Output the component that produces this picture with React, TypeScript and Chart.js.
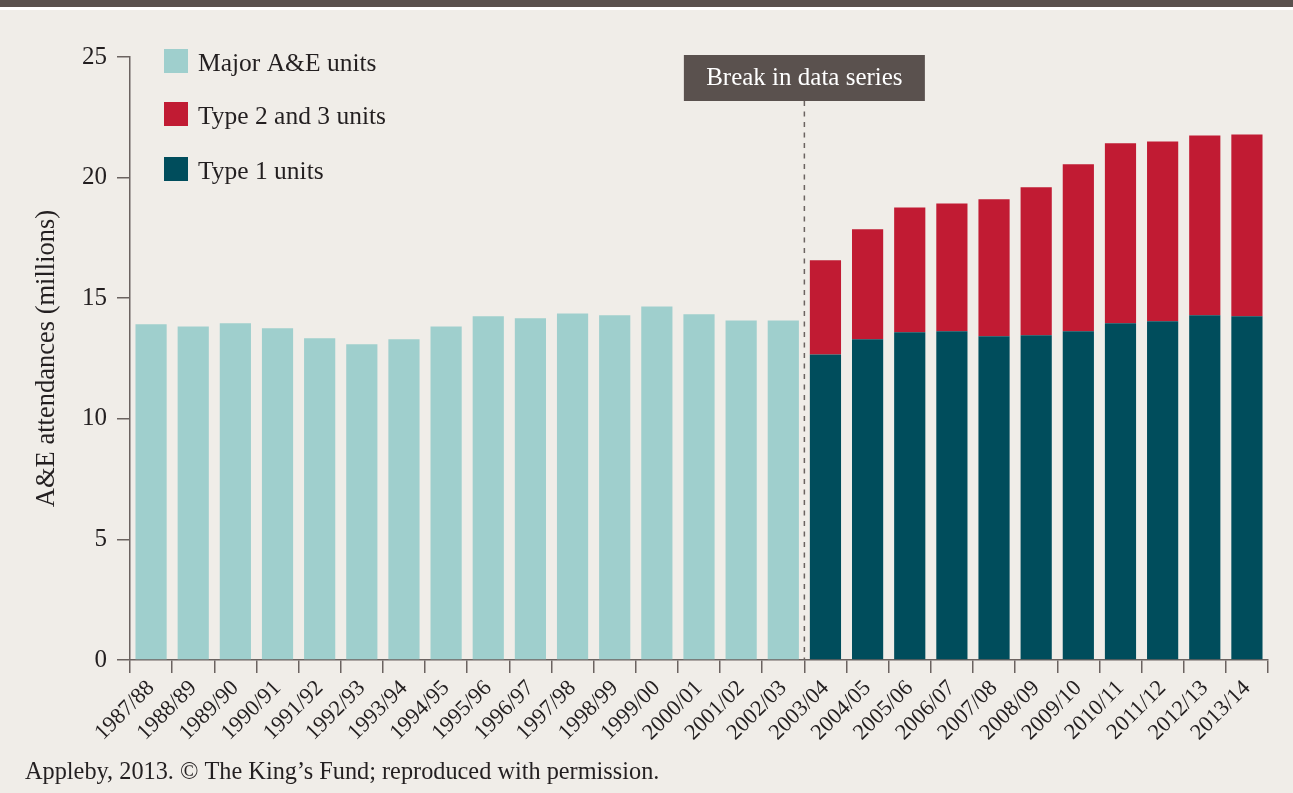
import React, { useEffect, useRef } from "react";
import { Chart, registerables } from "chart.js";
Chart.register(...registerables);

const categories = [
  "1987/88", "1988/89", "1989/90", "1990/91", "1991/92", "1992/93", "1993/94",
  "1994/95", "1995/96", "1996/97", "1997/98", "1998/99", "1999/00", "2000/01",
  "2001/02", "2002/03", "2003/04", "2004/05", "2005/06", "2006/07", "2007/08",
  "2008/09", "2009/10", "2010/11", "2011/12", "2012/13", "2013/14",
];

const majorAE: (number | null)[] = [
  13.92, 13.83, 13.96, 13.75, 13.34, 13.09, 13.3, 13.83, 14.25, 14.17, 14.37,
  14.29, 14.66, 14.33, 14.08, 14.08,
  null, null, null, null, null, null, null, null, null, null, null,
];

const type1: (number | null)[] = [
  null, null, null, null, null, null, null, null, null, null, null, null, null,
  null, null, null,
  12.67, 13.3, 13.59, 13.63, 13.42, 13.46, 13.63, 13.96, 14.04, 14.29, 14.25,
];

const type23: (number | null)[] = [
  null, null, null, null, null, null, null, null, null, null, null, null, null,
  null, null, null,
  3.9, 4.56, 5.17, 5.3, 5.68, 6.14, 6.92, 7.46, 7.46, 7.46, 7.54,
];

const yTicks = [0, 5, 10, 15, 20, 25];
const breakBefore = "2003/04";
const breakLabel = "Break in data series";
const yTitle = "A&E attendances (millions)";
const sourceText = "Appleby, 2013. © The King’s Fund; reproduced with permission.";

const C_MAJOR = "#9fcfcd";
const C_T23 = "#c11b33";
const C_T1 = "#004d5c";
const C_BG = "#f0ede8";
const C_DARK = "#5a514e";
const C_AXIS = "#6b6360";
const C_TEXT = "#231f20";
const FONT = "'Liberation Serif', 'Times New Roman', serif";
const FS = 25;

const legendItems = [
  { label: "Major A&E units", color: C_MAJOR },
  { label: "Type 2 and 3 units", color: C_T23 },
  { label: "Type 1 units", color: C_T1 },
];

const overlayPlugin = {
  id: "overlay",
  afterDraw(chart: any) {
    const ctx = chart.ctx;
    const xs = chart.scales.x;
    const area = chart.chartArea;
    const idx = categories.indexOf(breakBefore);
    const bx = (xs.getPixelForValue(idx - 1) + xs.getPixelForValue(idx)) / 2;

    ctx.save();
    // dashed break line
    ctx.strokeStyle = C_AXIS;
    ctx.lineWidth = 1.5;
    ctx.setLineDash([5, 5.5]);
    ctx.beginPath();
    ctx.moveTo(bx, 101);
    ctx.lineTo(bx, area.bottom);
    ctx.stroke();
    ctx.setLineDash([]);

    // break label box
    const bw = 241;
    ctx.fillStyle = C_DARK;
    ctx.fillRect(bx - bw / 2, 55, bw, 46);
    ctx.fillStyle = "#ffffff";
    ctx.font = `${FS}px ${FONT}`;
    ctx.textAlign = "center";
    ctx.textBaseline = "alphabetic";
    ctx.fillText(breakLabel, bx, 85);

    // legend
    const tops = [49, 102, 157];
    ctx.font = `25.5px ${FONT}`;
    legendItems.forEach((it, i) => {
      ctx.fillStyle = it.color;
      ctx.fillRect(164, tops[i], 24, 24);
      ctx.fillStyle = C_TEXT;
      ctx.textAlign = "left";
      ctx.fillText(it.label, 198, tops[i] + 22);
    });

    // source
    ctx.font = `24.3px ${FONT}`;
    ctx.fillStyle = C_TEXT;
    ctx.textAlign = "left";
    ctx.fillText(sourceText, 25, 779);
    ctx.restore();
  },
};

export default function App() {
  const ref = useRef<HTMLCanvasElement | null>(null);

  useEffect(() => {
    if (!ref.current) return;
    const font = { family: FONT, size: FS };
    const chart = new Chart(ref.current, {
      type: "bar",
      data: {
        labels: categories,
        datasets: [
          { label: "Major A&E units", data: majorAE, backgroundColor: C_MAJOR },
          { label: "Type 1 units", data: type1, backgroundColor: C_T1 },
          { label: "Type 2 and 3 units", data: type23, backgroundColor: C_T23 },
        ],
      },
      options: {
        animation: false,
        responsive: false,
        maintainAspectRatio: false,
        datasets: { bar: { categoryPercentage: 1, barPercentage: 0.74 } },
        layout: { padding: { top: 57, right: 25, left: 0, bottom: 0 } },
        plugins: { legend: { display: false }, tooltip: { enabled: false } },
        scales: {
          x: {
            stacked: true,
            grid: {
              offset: true,
              drawOnChartArea: false,
              tickLength: 13,
              color: C_AXIS,
              lineWidth: 1.5,
            },
            border: { color: C_AXIS, width: 1.5 },
            ticks: {
              autoSkip: false,
              minRotation: 45,
              maxRotation: 45,
              font: { family: FONT, size: 22.5 },
              color: C_TEXT,
              padding: 2,
            },
            afterFit: (s: any) => {
              s.height = 133;
            },
          },
          y: {
            stacked: true,
            min: yTicks[0],
            max: yTicks[yTicks.length - 1],
            afterBuildTicks: (s: any) => {
              s.ticks = yTicks.map((v) => ({ value: v }));
            },
            ticks: { font, color: C_TEXT, padding: 10 },
            grid: {
              drawOnChartArea: false,
              tickLength: 13,
              color: C_AXIS,
              lineWidth: 1.5,
            },
            border: { color: C_AXIS, width: 1.5 },
            title: {
              display: true,
              text: yTitle,
              font: { family: FONT, size: 26.5 },
              color: C_TEXT,
              padding: { top: 31, bottom: 0 },
            },
            afterFit: (s: any) => {
              s.width = 130;
            },
          },
        },
      } as any,
      plugins: [overlayPlugin],
    });
    return () => chart.destroy();
  }, []);

  return (
    <div
      style={{
        position: "fixed",
        left: 0,
        top: 0,
        width: 1293,
        height: 793,
        background: C_BG,
        overflow: "hidden",
      }}
    >
      <div style={{ position: "absolute", left: 0, top: 0, width: 1293, height: 7, background: C_DARK }} />
      <div style={{ position: "absolute", left: 0, top: 7, width: 1293, height: 3, background: "#ffffff" }} />
      <canvas
        ref={ref}
        width={1293}
        height={793}
        style={{ position: "absolute", left: 0, top: 0, width: 1293, height: 793 }}
      />
    </div>
  );
}
